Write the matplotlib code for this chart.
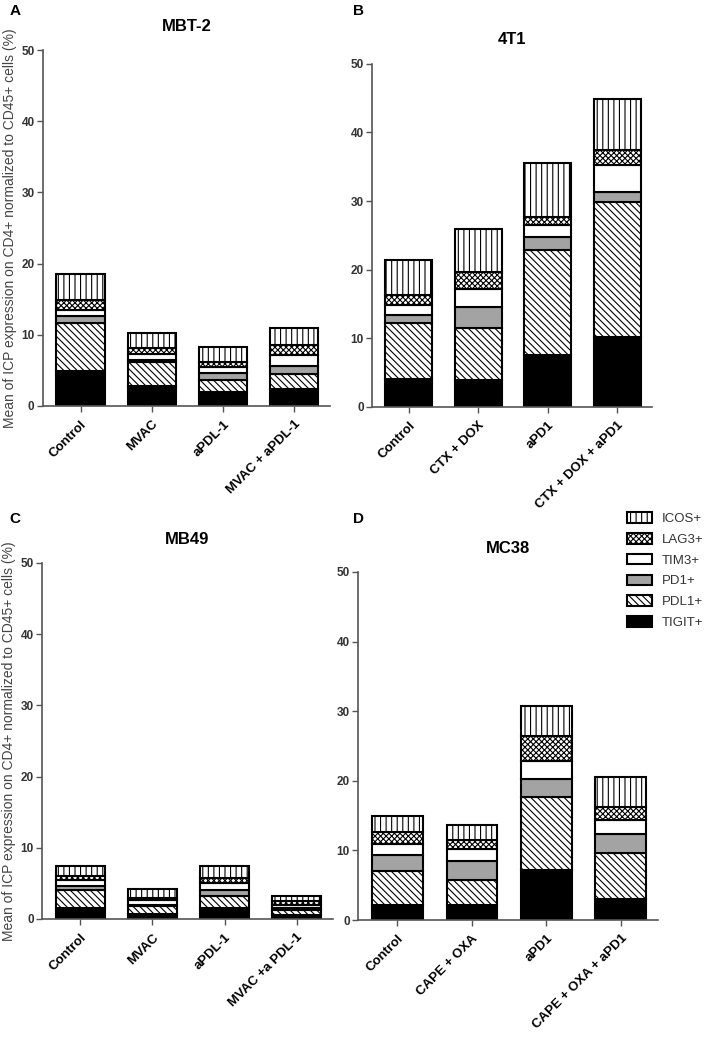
#Stacked bars of immune checkpoint markers on CD4+ cells for four tumour models
import numpy as np
import matplotlib
matplotlib.use("Agg")
import matplotlib.pyplot as plt
from matplotlib.patches import Patch

plt.rcParams["font.family"] = ["Liberation Sans", "DejaVu Sans"]
plt.rcParams["hatch.linewidth"] = 0.8

#Markers, bottom to top of each bar
markers = ["TIGIT+", "PDL1+", "PD1+", "TIM3+", "LAG3+", "ICOS+"]

#Panel A - MBT-2 (one row per group, columns follow markers)
groups_a = ["Control", "MVAC", "aPDL-1", "MVAC + aPDL-1"]
vals_a = [[4.9, 6.8, 0.9, 0.8, 1.5, 3.6],
          [2.8, 3.3, 0.4, 0.8, 0.8, 2.1],
          [2.0, 1.6, 1.0, 0.8, 0.8, 2.0],
          [2.3, 2.1, 1.2, 1.5, 1.5, 2.3]]

#Panel B - 4T1
groups_b = ["Control", "CTX + DOX", "aPD1", "CTX + DOX + aPD1"]
vals_b = [[4.1, 8.1, 1.2, 1.4, 1.5, 5.1],
          [3.9, 7.6, 3.0, 2.7, 2.4, 6.3],
          [7.6, 15.2, 1.9, 1.8, 1.2, 7.8],
          [10.2, 19.6, 1.5, 4.0, 2.2, 7.4]]

#Panel C - MB49
groups_c = ["Control", "MVAC", "aPDL-1", "MVAC +a PDL-1"]
vals_c = [[1.5, 2.5, 0.7, 0.8, 0.5, 1.4],
          [0.7, 1.1, 0.2, 0.7, 0.3, 1.2],
          [1.5, 1.7, 0.9, 1.0, 0.6, 1.7],
          [0.6, 0.6, 0.4, 0.4, 0.5, 0.7]]

#Panel D - MC38
groups_d = ["Control", "CAPE + OXA", "aPD1", "CAPE + OXA + aPD1"]
vals_d = [[2.2, 4.8, 2.4, 1.5, 1.7, 2.3],
          [2.2, 3.6, 2.7, 1.7, 1.3, 2.2],
          [7.2, 10.5, 2.5, 2.6, 3.7, 4.3],
          [3.0, 6.6, 2.8, 1.9, 2.0, 4.3]]

#Fill colour and hatch for each marker
faces = ["black", "white", "#a3a3a3", "white", "white", "white"]
hatches = [None, "\\\\\\\\\\", None, None, "xxxxxx", "|||"]

ylabel = "Mean of ICP expression on CD4+ normalized to CD45+ cells (%)"

fig = plt.figure(figsize=(7.14, 10.58), dpi=100)

#letter, title, groups, values, axes rect, y label?, letter position
panels = [
    ("A", "MBT-2", groups_a, vals_a, [0.060, 0.6165, 0.402, 0.336], True, (0.021, 0.990)),
    ("B", "4T1", groups_b, vals_b, [0.521, 0.6156, 0.392, 0.324], False, (0.502, 0.990)),
    ("C", "MB49", groups_c, vals_c, [0.059, 0.1314, 0.407, 0.3365], True, (0.021, 0.509)),
    ("D", "MC38", groups_d, vals_d, [0.5014, 0.1304, 0.420, 0.329], False, (0.502, 0.509)),
]

for letter, title, groups, vals, pos, show_ylabel, lpos in panels:
    ax = fig.add_axes(pos)
    data = np.array(vals)
    x = np.arange(len(groups))
    bottom = np.zeros(len(groups))
    for i in range(len(markers)):
        ax.bar(x, data[:, i], 0.68, bottom=bottom, color=faces[i],
               edgecolor="black", linewidth=1.5, hatch=hatches[i], zorder=2)
        bottom += data[:, i]

    ax.set_xlim(-0.53, 3.5)
    ax.set_ylim(0, 50)
    ax.set_yticks([0, 10, 20, 30, 40, 50])
    ax.set_xticks(x)
    ax.set_xticklabels(groups, rotation=45, ha="right", rotation_mode="anchor",
                       fontsize=9.5, fontweight="bold")
    for t in ax.get_yticklabels():
        t.set_fontsize(8.5)
        t.set_fontweight("bold")
        t.set_color("#333333")
    ax.tick_params(axis="y", direction="out", length=4, width=1, color="#555555", pad=2)
    ax.tick_params(axis="x", direction="out", length=4, width=1, color="#555555", pad=5)
    ax.spines["top"].set_visible(False)
    ax.spines["right"].set_visible(False)
    ax.spines["left"].set_color("#555555")
    ax.spines["bottom"].set_color("#555555")
    ax.spines["left"].set_linewidth(1.2)
    ax.spines["bottom"].set_linewidth(1.2)

    ax.set_title(title, fontsize=12, fontweight="bold", pad=14)
    if show_ylabel:
        ax.set_ylabel(ylabel, fontsize=10, color="#444444", labelpad=3)

    fig.text(lpos[0], lpos[1], letter, fontsize=11, fontweight="bold", va="center", ha="center")

#Legend with ICOS on top like the original
handles = [Patch(facecolor=faces[i], edgecolor="black", hatch=hatches[i], linewidth=1.5)
           for i in range(len(markers))][::-1]
fig.legend(handles, markers[::-1], loc="upper left", bbox_to_anchor=(0.862, 0.527),
           frameon=False, fontsize=9.5, handlelength=1.9, handleheight=0.85,
           labelspacing=0.6, handletextpad=0.7, labelcolor="#333333")

plt.savefig("out.png", dpi=100)
